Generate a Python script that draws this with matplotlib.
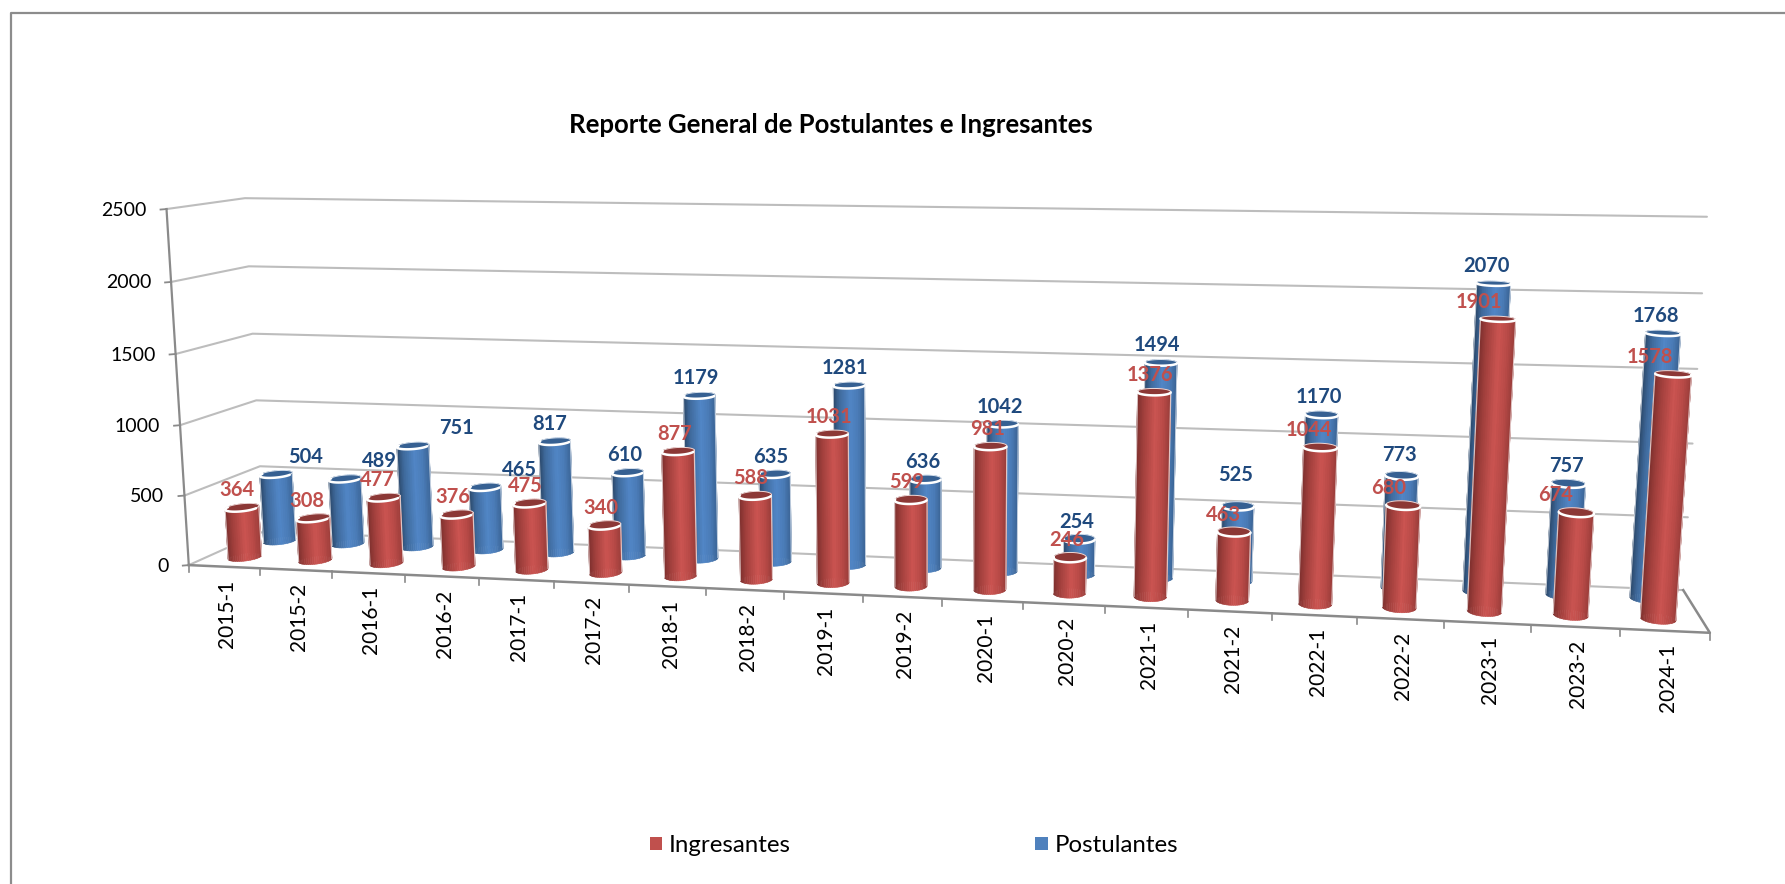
import numpy as np
import matplotlib
matplotlib.use('Agg')
import matplotlib.pyplot as plt
from matplotlib.collections import PolyCollection
from matplotlib.colors import LinearSegmentedColormap

plt.rcParams['font.family'] = ['Lato', 'DejaVu Sans']

# data
periodos = ['2015-1', '2015-2', '2016-1', '2016-2', '2017-1', '2017-2', '2018-1', '2018-2', '2019-1', '2019-2',
            '2020-1', '2020-2', '2021-1', '2021-2', '2022-1', '2022-2', '2023-1', '2023-2', '2024-1']
ingresantes = [364, 308, 477, 376, 475, 340, 877, 588, 1031, 599, 981, 246, 1376, 463, 1044, 680, 1901, 674, 1578]
postulantes = [504, 489, 751, 465, 817, 610, 1179, 635, 1281, 636, 1042, 254, 1494, 525, 1170, 773, 2070, 757, 1768]
niveles = [0, 500, 1000, 1500, 2000, 2500]

# label offsets from the top of each cylinder, in pixels
ing_dx = [-5, -6, -6, -4, -4, -4, -3, -5, -3, -4, -3, -3, -4, -10, -11, -15, -19, -21, -23]
pos_dx = [30, 34, 44, 34, -5, -3, -3, -4, -4, -3, -3, -3, -4, -2, -3, -2, -7, -2, -7]
pos_dy = [-17, -17, -17, -17, -17, -17, -17, -17, -17, -17, -17, -17, -17, -31, -17, -20, -17, -17, -17]

# where the chart box sits on the picture, used to fit the camera
izq_frente_x = [189, 183, 179, 176, 171, 166.5]
izq_frente_y = [565, 495, 425, 354, 282, 209]
izq_fondo_x = [263, 260, 256, 253, 249, 245]
izq_fondo_y = [532, 466, 400, 334, 267, 198]
der_fondo_x = [1683, 1688, 1693, 1697, 1702, 1707]
der_fondo_y = [590, 517, 443, 369, 293, 217]
tick_idx = [0, 1, 2, 6, 7, 8, 9, 10, 11, 12, 13, 14, 15, 16, 17, 18, 19]
tick_x = [189, 261, 333, 630, 706, 784, 863, 942, 1023, 1105, 1188, 1272, 1357, 1444, 1531, 1620, 1710]

N = len(periodos)
VMAX = 2500.0


def ajustar_camara():
    pts = []
    for k, v in enumerate(niveles):
        pts.append((0, v, 0, izq_frente_x[k], izq_frente_y[k]))
        pts.append((0, v, 1, izq_fondo_x[k], izq_fondo_y[k]))
        pts.append((N, v, 1, der_fondo_x[k], der_fondo_y[k]))
    for c, x in zip(tick_idx, tick_x):
        pts.append((c, 0, 0, x, 565 + (x - 189) * 68.0 / 1521))
    filas = []
    for c, v, d, x, y in pts:
        p = [c / N, v / VMAX, d, 1.0]
        x, y = x / 1000.0, y / 1000.0
        filas.append(p + [0, 0, 0, 0] + [-x * a for a in p])
        filas.append([0, 0, 0, 0] + p + [-y * a for a in p])
    _, _, vt = np.linalg.svd(np.array(filas))
    return vt[-1].reshape(3, 4)


P = ajustar_camara()


def proy(c, v, d):
    c, v, d = np.broadcast_arrays(np.asarray(c, float), np.asarray(v, float), np.asarray(d, float))
    q = np.stack([c / N, v / VMAX, d, np.ones_like(c)])
    r = P @ q.reshape(4, -1)
    return (r[0] / r[2] * 1000).reshape(c.shape), (r[1] / r[2] * 1000).reshape(c.shape)


fig = plt.figure(figsize=(17.85, 8.84), dpi=100)
ax = fig.add_axes([0, 0, 1, 1])
ax.set_xlim(0, 1785)
ax.set_ylim(884, 0)
ax.axis('off')

# outer frame
ax.plot([10.5, 10.5, 1785], [884, 12.5, 12.5], color='#8c8c8c', lw=1.6, zorder=1)

gris = '#bdbdbd'
oscuro = '#8a8a8a'

# walls
for v in niveles:
    xs, ys = proy([0, 0, N], [v, v, v], [0, 1, 1])
    ax.plot(xs, ys, color=gris, lw=1.5, zorder=2, solid_capstyle='round')
    ax.plot([xs[0] - 6, xs[0]], [ys[0] + 0.5, ys[0]], color=oscuro, lw=1.3, zorder=3)
    ax.text(xs[0] - 20, ys[0] + 1, str(v), ha='right', va='center', fontsize=14, color='black')

# axes
xs, ys = proy([0, 0], [0, VMAX], [0, 0])
ax.plot(xs, ys, color=oscuro, lw=1.6, zorder=3)
xs, ys = proy([0, N, N], [0, 0, 0], [0, 0, 1])
ax.plot(xs, ys, color=oscuro, lw=1.8, zorder=3)
for i in range(N + 1):
    x, y = proy(i, 0, 0)
    ax.plot([x, x], [y, y + 7], color=oscuro, lw=1.2, zorder=3)
for i, p in enumerate(periodos):
    x, y = proy(i + 0.5, 0, 0)
    ax.text(x + 3, y + 13, p, rotation=90, ha='center', va='top', fontsize=15, color='black')

cm_rojo = LinearSegmentedColormap.from_list('r', [(0, '#7c2f2d'), (0.2, '#a03f3c'), (0.55, '#cb5451'), (0.8, '#b84a47'), (1, '#9a3d3a')])
cm_azul = LinearSegmentedColormap.from_list('b', [(0, '#2a4668'), (0.2, '#3f6a9c'), (0.55, '#5186c6'), (0.8, '#4a7bb6'), (1, '#3b6495')])

RC = 0.2
RD = 0.125
TH = np.linspace(0, 2 * np.pi, 49)


def cilindro(i, val, d, cm, tapa, z):
    c0 = i + 0.5
    cc = c0 + RC * np.cos(TH)
    dd = d + RD * np.sin(TH)
    xt, yt = proy(cc, val, dd)
    xb, yb = proy(cc, 0, dd)
    t = (xt - xt.min()) / (xt.max() - xt.min())
    quads, cols = [], []
    for k in range(len(TH) - 1):
        quads.append([(xt[k], yt[k]), (xt[k + 1], yt[k + 1]), (xb[k + 1], yb[k + 1]), (xb[k], yb[k])])
        cols.append(cm((t[k] + t[k + 1]) / 2))
    ax.add_collection(PolyCollection(quads, facecolors=cols, edgecolors=cols, linewidths=0.4, zorder=z))
    # white edge down the sides
    for k in (xt.argmin(), xt.argmax()):
        ax.plot([xt[k], xb[k]], [yt[k], yb[k]], color='white', lw=0.9, alpha=0.7, zorder=z + 0.1)
    # lid
    ax.fill(xt, yt, color=tapa, lw=0, zorder=z + 0.2)
    frente = TH >= np.pi
    ax.plot(xt[frente], yt[frente] + 0.4, color='white', lw=1.8, zorder=z + 0.3, solid_capstyle='round')
    ax.plot(xt[~frente], yt[~frente], color='white', lw=0.7, alpha=0.8, zorder=z + 0.3)
    return proy(c0, val, d)


D_ROJO = 0.27
D_AZUL = 0.75

for i in range(N):
    x, y = cilindro(i, postulantes[i], D_AZUL, cm_azul, '#366092', 5)
    ax.text(x + pos_dx[i], y + pos_dy[i], str(postulantes[i]), ha='center', va='center', fontsize=14.5,
            fontweight='bold', color='#1f497d', zorder=20)
for i in range(N):
    x, y = cilindro(i, ingresantes[i], D_ROJO, cm_rojo, '#8c3836', 10)
    ax.text(x + ing_dx[i], y - 17, str(ingresantes[i]), ha='center', va='center', fontsize=14.5,
            fontweight='bold', color='#c0504d', zorder=21)

# title
ax.text(831, 125, 'Reporte General de Postulantes e Ingresantes', ha='center', va='center', fontsize=18.5,
        fontweight='bold', color='black')

# legend
ax.fill([650, 662, 662, 650], [837, 837, 850, 850], color='#c0504d', lw=0)
ax.text(669, 845, 'Ingresantes', ha='left', va='center', fontsize=17.3, color='black')
ax.fill([1035, 1048, 1048, 1035], [837, 837, 850, 850], color='#4f81bd', lw=0)
ax.text(1055, 845, 'Postulantes', ha='left', va='center', fontsize=17.3, color='black')

fig.savefig('out.png', dpi=100)
